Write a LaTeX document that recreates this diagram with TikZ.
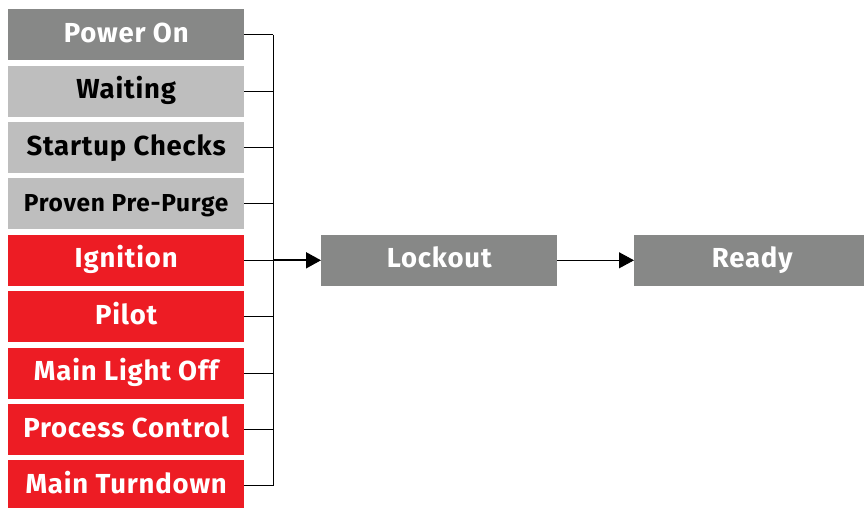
\documentclass[tikz,border=0pt]{standalone}
\usepackage{fontspec}
\setmainfont[LetterSpace=3]{Fira Sans}
\usetikzlibrary{arrows.meta}
\definecolor{dgray}{RGB}{135,136,135}
\definecolor{lgray}{RGB}{190,190,190}
\definecolor{fred}{RGB}{237,28,36}
\begin{document}
\begin{tikzpicture}[x=1pt,y=-1pt,
  box/.style={minimum width=236pt, minimum height=51pt, inner sep=0pt, anchor=north west,
    text height=19pt, text depth=4pt,
    font=\bfseries\fontsize{27.5}{30}\selectfont},
  darkbox/.style={box, fill=dgray, text=white},
  lightbox/.style={box, fill=lgray, text=black},
  redbox/.style={box, fill=fred, text=white},
  smalltext/.style={font=\bfseries\fontsize{24.5}{28}\selectfont, text height=17pt, text depth=1pt},
  link/.style={draw=black, line width=0.9pt},
  tip/.style={-{Triangle[length=15pt,width=16pt]}}
]
\useasboundingbox (0,0) rectangle (864,508);
\node[darkbox]  (p1) at (8,9)     {Power On};
\node[lightbox] (p2) at (8,65.4)  {Waiting};
\node[lightbox] (p3) at (8,121.8) {Startup Checks};
\node[lightbox, smalltext] (p4) at (8,178.2) {Proven Pre-Purge};
\node[redbox]   (p5) at (8,234.6) {Ignition};
\node[redbox]   (p6) at (8,291)   {Pilot};
\node[redbox]   (p7) at (8,347.4) {Main Light Off};
\node[redbox]   (p8) at (8,403.8) {Process Control};
\node[redbox]   (p9) at (8,460.2) {Main Turndown};
\node[darkbox]  (lock)  at (321,234.6) {Lockout};
\node[darkbox]  (ready) at (634,234.6) {Ready};
\coordinate (bus) at (273,0);
\foreach \i in {1,...,9} {
  \draw[link] (p\i.east) -- (p\i.east -| bus);
}
\draw[link] (p1.east -| bus) -- (p9.east -| bus);
\draw[link, line width=1.8pt, tip] (p5.east -| bus) -- (lock.west);
\draw[link, tip] (lock.east) -- (ready.west);
\end{tikzpicture}
\end{document}
